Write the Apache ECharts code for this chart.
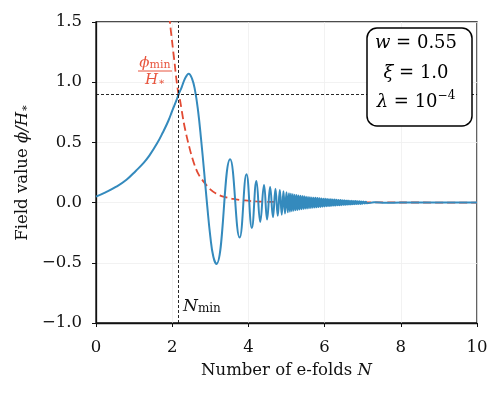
<!DOCTYPE html>
<html>
<head>
<meta charset="utf-8">
<script src="https://cdn.jsdelivr.net/npm/echarts@6/dist/echarts.min.js"></script>
<style>
  html, body { margin: 0; padding: 0; background: #fff; }
  #chart { width: 502px; height: 396px; }
</style>
</head>
<body>
<div id="chart"></div>
<script>
// field value phi/H*, first growth and the large swings
var blueHeadN = [0, 0.25, 0.52, 0.8, 1.05, 1.25, 1.4, 1.6, 1.75, 1.9, 2.01, 2.1, 2.17, 2.25, 2.32, 2.38, 2.43, 2.52, 2.6, 2.68, 2.76, 2.84, 2.92, 3.0, 3.08, 3.16,
  3.52, 3.77, 3.95, 4.09, 4.21, 4.31, 4.41, 4.49, 4.57, 4.645, 4.71, 4.77, 4.825, 4.875, 4.92, 4.96, 5.0, 5.035, 5.065, 5.09];
var blueHeadV = [0.05, 0.085, 0.13, 0.19, 0.265, 0.33, 0.39, 0.49, 0.58, 0.68, 0.77, 0.84, 0.9, 0.96, 1.02, 1.055, 1.07, 1.03, 0.93, 0.76, 0.52, 0.25, -0.03, -0.28, -0.45, -0.51,
  0.36, -0.29, 0.235, -0.21, 0.18, -0.16, 0.146, -0.14, 0.13, -0.12, 0.115, -0.11, 0.105, -0.1, 0.095, -0.09, 0.085, -0.081, 0.078, -0.075];

// dense tail (peaks and troughs of the fast oscillation)
var blueTailN = [5.115, 5.14, 5.165, 5.19, 5.215, 5.24, 5.265, 5.29, 5.315, 5.34, 5.365, 5.39, 5.415, 5.44, 5.465, 5.49, 5.515, 5.54, 5.565, 5.59, 5.615, 5.64, 5.665, 5.69, 5.715, 5.74, 5.765, 5.79, 5.815, 5.84, 5.865, 5.89, 5.915, 5.94, 5.965, 5.99,
  6.015, 6.04, 6.065, 6.09, 6.115, 6.14, 6.165, 6.19, 6.215, 6.24, 6.265, 6.29, 6.315, 6.34, 6.365, 6.39, 6.415, 6.44, 6.465, 6.49, 6.515, 6.54, 6.565, 6.59, 6.615, 6.64, 6.665, 6.69, 6.715, 6.74, 6.765, 6.79, 6.815, 6.84, 6.865, 6.89, 6.915, 6.94, 6.965, 6.99,
  7.02, 7.05, 7.08, 7.11, 7.3, 7.6, 8.0, 9.0, 10.0];
var blueTailV = [0.073, -0.071, 0.069, -0.067, 0.066, -0.064, 0.063, -0.061, 0.06, -0.058, 0.057, -0.055, 0.054, -0.053, 0.052, -0.05, 0.049, -0.048, 0.047, -0.046, 0.045, -0.044, 0.043, -0.042, 0.041, -0.04, 0.04, -0.039, 0.038, -0.037, 0.037, -0.036, 0.035, -0.034, 0.033, -0.032,
  0.031, -0.03, 0.03, -0.029, 0.028, -0.028, 0.027, -0.026, 0.026, -0.025, 0.025, -0.024, 0.024, -0.023, 0.022, -0.022, 0.021, -0.021, 0.02, -0.02, 0.019, -0.019, 0.018, -0.018, 0.017, -0.016, 0.016, -0.015, 0.015, -0.014, 0.014, -0.013, 0.013, -0.012, 0.012, -0.011, 0.011, -0.011, 0.01, -0.01,
  0.009, -0.008, 0.007, -0.006, 0.002, -0.001, 0.0, 0.0, 0.0];

// phi_min/H* curve
var redN = [1.9, 1.94, 2.0, 2.07, 2.1, 2.16, 2.2, 2.3, 2.38, 2.45, 2.5, 2.6, 2.7, 2.86, 3.0, 3.15, 3.34, 3.6, 3.9, 4.21, 4.6, 5.0, 6.0, 8.0, 10.0];
var redV = [1.65, 1.5, 1.33, 1.14, 1.05, 0.91, 0.86, 0.67, 0.55, 0.46, 0.4, 0.3, 0.23, 0.16, 0.11, 0.075, 0.05, 0.03, 0.018, 0.01, 0.006, 0.004, 0.002, 0.001, 0.0];

var nMin = 2.17;
var phiAtNMin = 0.9;
var paramNames = ["w", "ξ", "λ"];
var paramValues = ["0.55", "1.0", "10"];

var FONT = "DejaVu Serif";
var FS = 16.5;

function pairs(xs, ys) {
    var out = [];
    for (var i = 0; i < xs.length; i++) {
        out.push([xs[i], ys[i]]);
    }
    return out;
}

function fmtTick(v, digits) {
    return v.toFixed(digits).replace("-", "\u2212");
}

var chart = echarts.init(document.getElementById("chart"), null, { renderer: "canvas" });

var axisCommon = {
    axisLine: { show: true, onZero: false, lineStyle: { color: "#111", width: 1.3 } },
    axisTick: { show: true, length: 4, lineStyle: { color: "#111", width: 1 } },
    splitLine: { show: true, lineStyle: { color: "#efefef", width: 0.8 } }
};

var option = {
    backgroundColor: "#fff",
    animation: false,
    grid: {
        left: 96, right: 25, top: 22, bottom: 73,
        show: true, borderColor: "#111", borderWidth: 1.3, backgroundColor: "transparent"
    },
    xAxis: Object.assign({
        type: "value", min: 0, max: 10, interval: 2,
        name: "{r|Number of e-folds }{i|N}",
        nameLocation: "middle", nameGap: 39,
        nameTextStyle: {
            rich: {
                r: { fontFamily: FONT, fontSize: FS, color: "#111" },
                i: { fontFamily: FONT, fontSize: FS, fontStyle: "italic", color: "#111" }
            }
        },
        axisLabel: { fontFamily: FONT, fontSize: FS, color: "#111", margin: 16,
            formatter: function (v) { return fmtTick(v, 0); } }
    }, axisCommon),
    yAxis: Object.assign({
        type: "value", min: -1.0, max: 1.5, interval: 0.5,
        name: "{r|Field value }{i|ϕ/H}{s|∗}",
        nameLocation: "middle", nameGap: 63, nameRotate: 90,
        nameTextStyle: {
            rich: {
                r: { fontFamily: FONT, fontSize: FS, color: "#111" },
                i: { fontFamily: FONT, fontSize: FS, fontStyle: "italic", color: "#111" },
                s: { fontFamily: FONT, fontSize: 11, color: "#111", verticalAlign: "bottom" }
            }
        },
        axisLabel: { fontFamily: FONT, fontSize: FS, color: "#111", margin: 14,
            formatter: function (v) { return fmtTick(v, 1); } }
    }, axisCommon),
    series: [
        {
            name: "phi_min",
            type: "line",
            data: pairs(redN, redV),
            showSymbol: false,
            smooth: 0.3,
            clip: true,
            lineStyle: { color: "#E24A33", width: 1.8, type: [8, 4] },
            z: 2
        },
        {
            name: "phi",
            type: "line",
            data: pairs(blueHeadN.concat(blueTailN), blueHeadV.concat(blueTailV)),
            showSymbol: false,
            smooth: 0.45,
            clip: true,
            lineStyle: { color: "#348ABD", width: 2 },
            z: 3,
            markLine: {
                silent: true,
                symbol: "none",
                label: { show: false },
                lineStyle: { color: "#111", width: 0.9, type: [3, 2] },
                data: [{ xAxis: nMin }, { yAxis: phiAtNMin }]
            }
        }
    ],
    graphic: [
        // fraction label next to the red curve
        {
            type: "text", x: 155, y: 63, z: 10,
            style: { text: "{i|ϕ}{s|min}", align: "center", verticalAlign: "middle", rich: {
                i: { fontFamily: FONT, fontSize: 15, fontStyle: "italic", fill: "#E8553E" },
                s: { fontFamily: FONT, fontSize: 11, fill: "#E8553E", verticalAlign: "bottom" } } }
        },
        { type: "line", z: 10, shape: { x1: 138, y1: 71, x2: 172, y2: 71 }, style: { stroke: "#E8553E", lineWidth: 1 } },
        {
            type: "text", x: 155, y: 80, z: 10,
            style: { text: "{i|H}{s|∗}", align: "center", verticalAlign: "middle", rich: {
                i: { fontFamily: FONT, fontSize: 15, fontStyle: "italic", fill: "#E8553E" },
                s: { fontFamily: FONT, fontSize: 10, fill: "#E8553E", verticalAlign: "bottom" } } }
        },
        {
            type: "text", left: 183, top: 298, z: 10,
            style: { text: "{i|N}{s|min}", rich: {
                i: { fontFamily: FONT, fontSize: 17, fontStyle: "italic", fill: "#111" },
                s: { fontFamily: FONT, fontSize: 12, fill: "#111", verticalAlign: "bottom" } } }
        },
        // parameter box
        {
            type: "rect", z: 20,
            shape: { x: 367, y: 28, width: 105, height: 98, r: 10 },
            style: { fill: "#fff", stroke: "#000", lineWidth: 1.5 }
        },
        {
            type: "text", x: 416, y: 43, z: 21,
            style: { text: "{i|" + paramNames[0] + "}{r| = " + paramValues[0] + "}", align: "center", verticalAlign: "middle", rich: {
                i: { fontFamily: FONT, fontSize: 18, fontStyle: "italic", fill: "#000" },
                r: { fontFamily: FONT, fontSize: 18, fill: "#000" } } }
        },
        {
            type: "text", x: 416, y: 73, z: 21,
            style: { text: "{i|" + paramNames[1] + "}{r| = " + paramValues[1] + "}", align: "center", verticalAlign: "middle", rich: {
                i: { fontFamily: FONT, fontSize: 18, fontStyle: "italic", fill: "#000" },
                r: { fontFamily: FONT, fontSize: 18, fill: "#000" } } }
        },
        {
            type: "text", x: 416, y: 102, z: 21,
            style: { text: "{i|" + paramNames[2] + "}{r| = " + paramValues[2] + "}{p|\u22124}", align: "center", verticalAlign: "middle", rich: {
                i: { fontFamily: FONT, fontSize: 18, fontStyle: "italic", fill: "#000", lineHeight: 24 },
                r: { fontFamily: FONT, fontSize: 18, fill: "#000", lineHeight: 24 },
                p: { fontFamily: FONT, fontSize: 12, fill: "#000", verticalAlign: "top", lineHeight: 24 } } }
        }
    ]
};

chart.setOption(option);
</script>
</body>
</html>
